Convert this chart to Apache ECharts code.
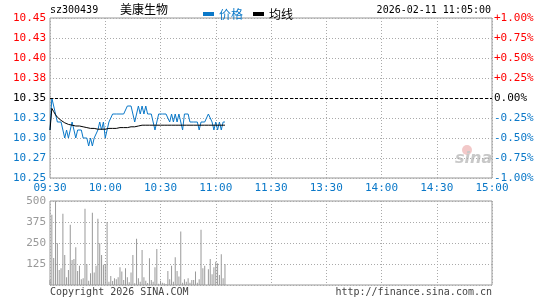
<!DOCTYPE html>
<html>
<head>
    <meta charset="utf-8">
</head>
<body style="margin: 0">
<div id="container" style="width: 545px; height: 300px"></div>

<script type="text/javascript" src="https://cdn.jsdelivr.net/npm/echarts@6/dist/echarts.min.js"></script>
<script type="text/javascript">
    // tick labels
    var timeLabels = ['09:30', '10:00', '10:30', '11:00', '11:30', '13:30', '14:00', '14:30', '15:00'];
    var priceLabels = ['10.25', '10.27', '10.30', '10.32', '10.35', '10.38', '10.40', '10.43', '10.45'];
    var pctLabels = ['-1.00%', '-0.75%', '-0.50%', '-0.25%', '0.00%', '+0.25%', '+0.50%', '+0.75%', '+1.00%'];
    var volLabels = ['', '125', '250', '375', '500'];

    // one value per minute from 09:30 to 11:05
    var prices = [
        10.31, 10.35, 10.34, 10.33, 10.32, 10.32, 10.32, 10.31, 10.30, 10.31,
        10.30, 10.31, 10.32, 10.31, 10.30, 10.31, 10.31, 10.31, 10.30, 10.30,
        10.30, 10.29, 10.30, 10.29, 10.30, 10.30, 10.31, 10.32, 10.31, 10.32,
        10.30, 10.31, 10.32, 10.32, 10.33, 10.33, 10.33, 10.33, 10.33, 10.33,
        10.33, 10.33, 10.34, 10.34, 10.34, 10.33, 10.32, 10.33, 10.34, 10.33,
        10.34, 10.33, 10.34, 10.33, 10.33, 10.33, 10.32, 10.31, 10.31, 10.33,
        10.33, 10.33, 10.33, 10.33, 10.33, 10.32, 10.33, 10.32, 10.33, 10.32,
        10.33, 10.32, 10.31, 10.33, 10.33, 10.33, 10.32, 10.32, 10.32, 10.32,
        10.32, 10.31, 10.32, 10.32, 10.32, 10.32, 10.33, 10.33, 10.32, 10.31,
        10.32, 10.31, 10.32, 10.31, 10.32, 10.32
    ];
    var avgPrices = [
        10.310, 10.337, 10.333, 10.329, 10.326, 10.324, 10.322, 10.320, 10.319, 10.318,
        10.317, 10.317, 10.316, 10.316, 10.315, 10.315, 10.315, 10.314, 10.314, 10.313,
        10.313, 10.313, 10.312, 10.312, 10.312, 10.311, 10.311, 10.311, 10.311, 10.311,
        10.311, 10.312, 10.312, 10.312, 10.312, 10.312, 10.312, 10.312, 10.313, 10.313,
        10.313, 10.313, 10.313, 10.313, 10.314, 10.314, 10.314, 10.314, 10.315, 10.315,
        10.316, 10.316, 10.316, 10.316, 10.316, 10.316, 10.316, 10.316, 10.316, 10.316,
        10.316, 10.316, 10.316, 10.316, 10.316, 10.316, 10.316, 10.316, 10.316, 10.316,
        10.316, 10.316, 10.316, 10.316, 10.316, 10.316, 10.316, 10.316, 10.316, 10.316,
        10.316, 10.316, 10.316, 10.316, 10.316, 10.316, 10.316, 10.316, 10.316, 10.316,
        10.316, 10.316, 10.316, 10.316, 10.316, 10.316
    ];
    var volumes = [
        30, 418, 160, 498, 249, 90, 100, 424, 179, 46,
        90, 359, 149, 155, 225, 84, 114, 34, 40, 454,
        125, 26, 70, 430, 74, 114, 394, 249, 179, 120,
        125, 375, 20, 54, 24, 40, 34, 46, 106, 80,
        30, 100, 46, 16, 74, 179, 10, 275, 40, 20,
        209, 46, 26, 12, 159, 30, 20, 106, 215, 8,
        26, 14, 10, 6, 84, 34, 114, 20, 165, 84,
        50, 319, 14, 34, 20, 40, 14, 30, 30, 80,
        14, 34, 329, 100, 114, 0, 94, 155, 64, 106,
        139, 130, 60, 183, 40, 125
    ];

    var BLUE = '#0a78c8';
    var RED = '#ff0000';
    var MONO = '"DejaVu Sans Mono", monospace';

    function levelColor(idx) {
        if (idx < 4) return BLUE;
        if (idx > 4) return RED;
        return '#000';
    }
    function priceIdx(v) {
        return Math.round((v - 10.25) / 0.025);
    }

    var dom = document.getElementById('container');
    var myChart = echarts.init(dom, null, {renderer: 'canvas'});

    var dotted = {color: '#aaa', type: [1, 2], width: 1};

    var option = {
        animation: false,
        backgroundColor: '#fff',
        legend: {
            left: 198,
            top: 3,
            itemWidth: 11,
            itemHeight: 4,
            itemGap: 10,
            icon: 'rect',
            textStyle: {fontSize: 12, fontFamily: '"Noto Sans CJK SC", sans-serif'},
            data: [
                {name: '价格', textStyle: {color: BLUE}},
                {name: '均线', textStyle: {color: '#000'}}
            ]
        },
        graphic: [
            {type: 'text', left: 50, top: 5, style: {text: 'sz300439', font: '10px ' + MONO, fill: '#000'}},
            {type: 'text', left: 120, top: 3, style: {text: '美康生物', font: '12px "Noto Sans CJK SC"', fill: '#000'}},
            {type: 'text', right: 54, top: 5, style: {text: '2026-02-11 11:05:00', font: '10px ' + MONO, fill: '#000'}},
            {type: 'text', left: 50, top: 287, style: {text: 'Copyright 2026 SINA.COM', font: '10px ' + MONO, fill: '#444'}},
            {type: 'text', right: 53, top: 287, style: {text: 'http://finance.sina.com.cn', font: '10px ' + MONO, fill: '#444'}},
            {type: 'circle', shape: {cx: 467, cy: 150, r: 5}, style: {fill: '#f2c8c8'}, z: 0},
            {type: 'text', left: 455, top: 151, z: 0,
                style: {text: 'sina', font: 'italic bold 16px "DejaVu Sans"', fill: '#c8c8c8'}}
        ],
        grid: [
            {left: 50, top: 18, width: 442, height: 160, show: true, borderColor: '#999', borderWidth: 1},
            {left: 50, top: 201, width: 442, height: 84, show: true, borderColor: '#999', borderWidth: 1}
        ],
        xAxis: [
            {
                type: 'value', gridIndex: 0, min: 0, max: 240, interval: 30,
                axisLine: {show: false}, axisTick: {show: false},
                axisLabel: {
                    margin: 5, color: BLUE, fontSize: 11, fontFamily: MONO,
                    formatter: function (v) { return timeLabels[Math.round(v / 30)]; }
                },
                splitLine: {show: true, lineStyle: dotted}
            },
            {
                type: 'value', gridIndex: 1, min: 0, max: 240, interval: 30,
                axisLine: {show: false}, axisTick: {show: false}, axisLabel: {show: false},
                splitLine: {show: true, lineStyle: dotted}
            }
        ],
        yAxis: [
            {
                type: 'value', gridIndex: 0, min: 10.25, max: 10.45, interval: 0.025,
                axisLine: {show: false}, axisTick: {show: false},
                axisLabel: {
                    margin: 4, fontSize: 11, fontFamily: MONO,
                    formatter: function (v) { return priceLabels[priceIdx(v)]; },
                    color: function (v) { return levelColor(priceIdx(v)); }
                },
                splitLine: {show: true, lineStyle: dotted}
            },
            {
                type: 'value', gridIndex: 0, position: 'right', min: 10.25, max: 10.45, interval: 0.025,
                axisLine: {show: false}, axisTick: {show: false},
                axisLabel: {
                    margin: 2, fontSize: 11, fontFamily: MONO,
                    formatter: function (v) { return pctLabels[priceIdx(v)]; },
                    color: function (v) { return levelColor(priceIdx(v)); }
                },
                splitLine: {show: false}
            },
            {
                type: 'value', gridIndex: 1, min: 0, max: 500, interval: 125,
                axisLine: {show: false}, axisTick: {show: false},
                axisLabel: {
                    margin: 4, fontSize: 11, fontFamily: MONO, color: '#999',
                    formatter: function (v) { return volLabels[Math.round(v / 125)]; }
                },
                splitLine: {show: true, lineStyle: dotted}
            }
        ],
        series: [
            {
                name: '价格', type: 'line', xAxisIndex: 0, yAxisIndex: 0,
                showSymbol: false, color: BLUE, lineStyle: {width: 1, color: BLUE}, z: 3,
                data: prices.map(function (p, i) { return [i, p]; }),
                markLine: {
                    silent: true, symbol: 'none', label: {show: false},
                    lineStyle: {color: '#000', type: [3, 2], width: 1},
                    data: [{yAxis: 10.35}]
                }
            },
            {
                name: '均线', type: 'line', xAxisIndex: 0, yAxisIndex: 0,
                showSymbol: false, color: '#000', lineStyle: {width: 1, color: '#000'}, z: 4,
                data: avgPrices.map(function (p, i) { return [i, p]; })
            },
            {
                name: '成交量', type: 'bar', xAxisIndex: 1, yAxisIndex: 2,
                barWidth: 1, itemStyle: {color: '#999'},
                data: volumes.map(function (v, i) { return [i, v]; })
            }
        ]
    };

    myChart.setOption(option);
    window.addEventListener('resize', myChart.resize);
</script>
</body>
</html>
